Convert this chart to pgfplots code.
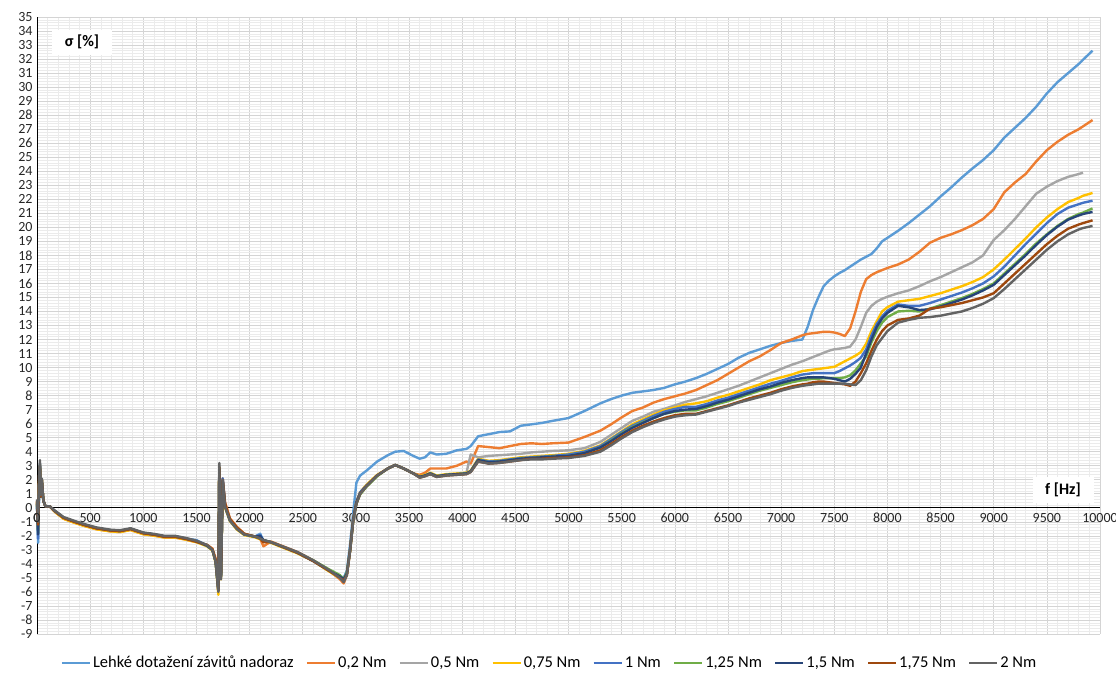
\documentclass[border=0pt]{standalone}
\usepackage{pgfplots}
\pgfplotsset{compat=1.18}
\usepackage{pgfplotstable}
\usepackage{fontspec}
\setmainfont{Carlito}
\definecolor{cA}{HTML}{5B9BD5}
\definecolor{cB}{HTML}{ED7D31}
\definecolor{cC}{HTML}{A5A5A5}
\definecolor{cD}{HTML}{FFC000}
\definecolor{cE}{HTML}{4472C4}
\definecolor{cF}{HTML}{70AD47}
\definecolor{cG}{HTML}{264478}
\definecolor{cH}{HTML}{9E480E}
\definecolor{cI}{HTML}{636363}
\pgfplotstableread{
x a b c d e f g h i
0 0.3 0.5 0.4 0.4 0.2 0.3 0.3 0.5 0.6
10 -2.5 -1.0 -1.5 -1.5 -2.2 -1.8 -1.9 -1.2 -1.0
20 1.5 2.3 1.6 1.8 1.5 1.5 1.6 2.0 2.2
28 2.5 2.8 3.0 2.9 3.0 3.1 3.2 3.0 3.4
35 0.8 0.8 0.8 0.8 0.8 0.8 0.8 0.8 0.9
45 1.8 2.0 2.0 2.0 1.9 2.0 2.0 2.0 2.1
60 0.5 0.5 0.5 0.5 0.5 0.5 0.5 0.5 0.5
80 0.1 0.1 0.1 0.1 0.1 0.1 0.1 0.1 0.1
120 0.1 0.1 0.1 0.1 0.1 0.1 0.1 0.1 0.1
170 -0.25 -0.3 -0.25 -0.3 -0.25 -0.25 -0.25 -0.25 -0.22
250 -0.7 -0.78 -0.7 -0.78 -0.7 -0.7 -0.7 -0.72 -0.66
340 -0.95 -1.03 -0.95 -1.03 -0.95 -0.95 -0.95 -0.97 -0.9
440 -1.2 -1.28 -1.2 -1.28 -1.2 -1.2 -1.2 -1.22 -1.15
560 -1.45 -1.53 -1.45 -1.53 -1.45 -1.45 -1.45 -1.47 -1.4
690 -1.6 -1.68 -1.6 -1.68 -1.6 -1.6 -1.6 -1.62 -1.56
780 -1.65 -1.73 -1.65 -1.73 -1.65 -1.65 -1.65 -1.67 -1.6
880 -1.5 -1.58 -1.5 -1.58 -1.5 -1.5 -1.5 -1.52 -1.46
1000 -1.8 -1.88 -1.8 -1.88 -1.8 -1.8 -1.8 -1.82 -1.76
1100 -1.9 -1.98 -1.9 -1.98 -1.9 -1.9 -1.9 -1.92 -1.86
1200 -2.05 -2.12 -2.05 -2.12 -2.05 -2.05 -2.05 -2.07 -2.0
1300 -2.05 -2.12 -2.05 -2.12 -2.05 -2.05 -2.05 -2.07 -2.0
1400 -2.2 -2.27 -2.2 -2.27 -2.2 -2.2 -2.2 -2.22 -2.15
1500 -2.3 -2.45 -2.4 -2.45 -2.35 -2.4 -2.4 -2.42 -2.35
1600 -2.7 -2.65 -2.7 -2.75 -2.7 -2.7 -2.7 -2.65 -2.65
1650 -3.0 -2.9 -3.0 -3.05 -3.0 -3.0 -3.0 -2.95 -3.0
1680 -3.8 -3.6 -3.8 -3.9 -3.8 -3.8 -3.8 -3.7 -3.8
1695 -5.0 -4.8 -5.0 -5.2 -5.0 -5.0 -5.0 -4.9 -5.0
1706 -5.8 -5.9 -6.0 -6.2 -5.9 -5.7 -5.9 -5.8 -6.0
1715 2.4 2.8 3.0 2.9 2.6 2.9 2.8 2.9 3.2
1731 -4.5 -4.0 -5.0 -5.1 -4.8 -4.9 -5.0 -4.8 -5.1
1747 2.1 2.1 2.0 1.8 2.1 1.8 1.9 2.0 2.0
1769 0.2 0.4 0.1 0.0 0.2 0.1 0.1 0.3 0.1
1815 -0.9 -0.75 -0.9 -0.95 -0.9 -0.9 -0.9 -0.8 -0.9
1880 -1.45 -1.35 -1.5 -1.55 -1.45 -1.5 -1.5 -1.4 -1.5
1950 -1.9 -1.85 -1.9 -1.95 -1.9 -1.9 -1.9 -1.85 -1.9
2050 -2.05 -2.05 -2.05 -2.1 -2.05 -2.05 -2.05 -2.05 -2.05
2100 -1.85 -2.2 -2.2 -2.25 -1.95 -2.2 -2.0 -2.2 -2.2
2130 -2.35 -2.75 -2.3 -2.35 -2.35 -2.3 -2.3 -2.45 -2.3
2200 -2.45 -2.4 -2.45 -2.5 -2.45 -2.45 -2.45 -2.45 -2.45
2300 -2.75 -2.7 -2.75 -2.8 -2.75 -2.75 -2.75 -2.75 -2.72
2450 -3.2 -3.15 -3.2 -3.25 -3.2 -3.2 -3.2 -3.2 -3.15
2600 -3.8 -3.75 -3.75 -3.8 -3.8 -3.75 -3.8 -3.8 -3.75
2750 -4.5 -4.5 -4.5 -4.55 -4.45 -4.4 -4.5 -4.5 -4.45
2850 -4.9 -5.1 -5.0 -5.0 -4.9 -4.8 -4.9 -5.0 -5.0
2885 -5.0 -5.4 -5.2 -5.2 -5.1 -5.1 -5.1 -5.2 -5.3
2915 -4.5 -4.8 -4.7 -4.7 -4.6 -4.6 -4.7 -4.8 -4.8
2945 -2.6 -3.1 -3.0 -3.0 -3.0 -3.1 -3.0 -3.1 -3.1
2975 -0.3 -0.8 -0.8 -0.8 -0.8 -0.9 -0.8 -0.9 -0.9
3005 1.8 0.4 0.4 0.4 0.4 0.3 0.4 0.3 0.3
3040 2.3 1.1 1.1 1.1 1.1 0.95 1.05 1.0 1.0
3100 2.65 1.6 1.6 1.65 1.6 1.5 1.55 1.55 1.55
3200 3.3 2.3 2.3 2.35 2.3 2.25 2.3 2.3 2.3
3300 3.75 2.8 2.8 2.8 2.8 2.8 2.8 2.8 2.8
3370 4.0 3.05 3.05 3.05 3.05 3.05 3.05 3.05 3.05
3450 4.05 2.8 2.8 2.8 2.8 2.8 2.8 2.8 2.8
3540 3.7 2.45 2.45 2.45 2.45 2.45 2.45 2.45 2.45
3600 3.5 2.35 2.2 2.25 2.2 2.2 2.2 2.15 2.15
3650 3.6 2.5 2.3 2.35 2.3 2.3 2.3 2.25 2.25
3700 3.95 2.8 2.45 2.5 2.45 2.45 2.45 2.4 2.4
3760 3.8 2.8 2.25 2.3 2.25 2.25 2.25 2.2 2.2
3850 3.85 2.8 2.35 2.4 2.35 2.35 2.35 2.3 2.3
3950 4.1 3.0 2.4 2.45 2.4 2.4 2.4 2.35 2.35
4040 4.2 3.3 2.5 2.5 2.45 2.45 2.45 2.4 2.4
4080 4.4 3.15 3.8 2.65 2.6 2.6 2.6 2.55 2.55
4150 5.10 4.40 3.60 3.50 3.45 3.40 3.40 3.30 3.30
4250 5.25 4.33 3.70 3.35 3.30 3.25 3.25 3.15 3.15
4350 5.40 4.25 3.75 3.40 3.35 3.30 3.30 3.20 3.20
4450 5.45 4.40 3.80 3.50 3.45 3.40 3.40 3.30 3.30
4550 5.85 4.55 3.85 3.60 3.55 3.50 3.50 3.40 3.40
4650 5.95 4.60 3.95 3.65 3.60 3.55 3.55 3.50 3.45
4750 6.05 4.55 4.00 3.70 3.65 3.60 3.60 3.50 3.45
4850 6.20 4.60 4.05 3.75 3.70 3.65 3.65 3.55 3.50
5000 6.40 4.65 4.10 3.85 3.80 3.70 3.70 3.60 3.55
5150 6.90 5.05 4.25 4.05 4.00 3.90 3.90 3.75 3.70
5300 7.45 5.50 4.70 4.45 4.40 4.30 4.30 4.10 4.00
5400 7.75 5.95 5.20 4.95 4.90 4.80 4.75 4.55 4.45
5500 8.00 6.45 5.70 5.45 5.40 5.30 5.25 5.05 4.95
5600 8.20 6.90 6.20 5.95 5.85 5.75 5.70 5.50 5.40
5700 8.30 7.15 6.50 6.30 6.20 6.10 6.05 5.85 5.75
5800 8.40 7.50 6.85 6.65 6.55 6.40 6.40 6.15 6.05
5900 8.55 7.75 7.05 6.95 6.85 6.70 6.70 6.40 6.30
6000 8.80 7.95 7.30 7.15 7.05 6.85 6.90 6.60 6.50
6100 9.00 8.15 7.55 7.35 7.20 6.95 7.00 6.70 6.60
6200 9.25 8.40 7.75 7.45 7.20 6.95 7.05 6.70 6.65
6300 9.55 8.75 7.95 7.60 7.40 7.15 7.25 6.90 6.85
6400 9.90 9.10 8.20 7.85 7.65 7.40 7.50 7.10 7.05
6500 10.25 9.55 8.45 8.05 7.85 7.60 7.70 7.30 7.25
6600 10.70 10.00 8.70 8.30 8.10 7.85 7.95 7.55 7.50
6700 11.05 10.45 9.00 8.55 8.35 8.10 8.20 7.80 7.70
6800 11.30 10.80 9.30 8.80 8.60 8.35 8.45 8.00 7.90
6900 11.55 11.25 9.60 9.10 8.85 8.55 8.65 8.20 8.10
7000 11.75 11.75 9.90 9.30 9.05 8.75 8.90 8.45 8.35
7100 11.90 12.00 10.20 9.50 9.30 8.95 9.10 8.65 8.55
7200 12.00 12.30 10.45 9.75 9.50 9.10 9.25 8.80 8.70
7250 12.90 12.40 10.60 9.80 9.55 9.15 9.30 8.85 8.75
7300 14.10 12.45 10.75 9.85 9.60 9.20 9.30 8.95 8.80
7350 15.00 12.50 10.90 9.90 9.60 9.20 9.30 9.00 8.85
7400 15.80 12.55 11.05 9.95 9.60 9.25 9.30 9.00 8.85
7450 16.20 12.55 11.20 10.00 9.60 9.25 9.25 8.95 8.85
7500 16.50 12.50 11.30 10.05 9.60 9.25 9.20 8.90 8.85
7550 16.75 12.40 11.35 10.25 9.75 9.25 9.10 8.85 8.85
7600 16.95 12.25 11.40 10.45 9.95 9.30 9.00 8.80 8.85
7650 17.20 12.80 11.50 10.65 10.15 9.45 9.20 8.70 8.80
7700 17.45 14.00 12.00 10.85 10.40 9.80 9.55 9.00 8.75
7750 17.70 15.40 12.90 11.10 10.70 10.30 10.00 9.60 9.10
7800 17.90 16.30 13.90 11.70 11.30 10.80 11.00 10.30 9.80
7850 18.10 16.60 14.40 12.60 12.30 11.80 12.00 11.20 10.80
7900 18.50 16.80 14.70 13.30 13.10 12.60 12.90 12.00 11.60
7950 19.00 16.95 14.90 14.00 13.65 13.20 13.50 12.60 12.10
8000 19.25 17.10 15.05 14.30 14.05 13.60 13.90 13.00 12.60
8100 19.75 17.35 15.30 14.70 14.50 14.00 14.40 13.40 13.20
8200 20.30 17.70 15.50 14.80 14.40 14.05 14.30 13.50 13.40
8300 20.90 18.25 15.80 14.90 14.40 14.00 14.10 13.70 13.55
8400 21.50 18.90 16.15 15.10 14.60 14.20 14.15 14.20 13.60
8500 22.20 19.25 16.45 15.30 14.85 14.45 14.35 14.30 13.70
8600 22.85 19.50 16.80 15.55 15.10 14.70 14.60 14.45 13.85
8700 23.55 19.80 17.15 15.80 15.35 14.95 14.85 14.60 14.00
8800 24.20 20.15 17.50 16.10 15.65 15.25 15.15 14.80 14.25
8900 24.80 20.60 18.00 16.45 16.00 15.60 15.50 15.00 14.55
9000 25.50 21.30 19.10 17.00 16.50 16.00 15.90 15.30 14.95
9100 26.40 22.50 19.80 17.70 17.20 16.70 16.60 16.00 15.60
9200 27.10 23.20 20.60 18.45 18.00 17.40 17.30 16.70 16.30
9300 27.80 23.80 21.50 19.20 18.80 18.10 18.00 17.40 17.00
9400 28.60 24.70 22.40 20.00 19.55 18.85 18.75 18.10 17.70
9500 29.55 25.50 22.90 20.70 20.30 19.50 19.45 18.80 18.40
9600 30.35 26.10 23.30 21.30 20.95 20.10 20.05 19.40 19.00
9700 31.00 26.60 23.60 21.80 21.40 20.60 20.55 19.90 19.50
9800 31.65 27.00 23.80 22.10 21.65 20.95 20.85 20.20 19.85
9840 31.95 27.20 23.90 22.25 21.75 21.05 20.95 20.30 19.95
9930 32.60 27.65 nan 22.45 21.90 21.35 21.10 20.50 20.10
}\data
\begin{document}
\begin{tikzpicture}[x=1pt,y=1pt]
\useasboundingbox (0,0) rectangle (1116,674);
\begin{axis}[
  at={(37pt,40pt)}, anchor=south west,
  scale only axis, width=1063pt, height=617pt,
  xmin=0, xmax=10000, ymin=-9, ymax=35,
  axis x line=middle, axis y line=left,
  axis line style={-, black, line width=0.9pt},
  xtick distance=500, ytick distance=1,
  minor x tick num=4, minor y tick num=4,
  scaled x ticks=false, scaled y ticks=false,
  hide obscured x ticks=false, hide obscured y ticks=false,
  grid=both,
  major grid style={draw=black!17, line width=0.6pt},
  minor grid style={draw=black!8, line width=0.5pt},
  major tick length=0pt, minor tick length=0pt,
  tick label style={font=\fontsize{14}{16}\selectfont, text=black!85},
  xticklabel={\pgfmathparse{int(round(\tick))}\pgfmathresult},
  yticklabel={\pgfmathparse{int(round(\tick))}\pgfmathresult},
  xticklabel style={yshift=-2pt},
  yticklabel style={xshift=-1pt},
  legend columns=9,
  legend style={draw=none, at={(0.5,0)}, anchor=north, yshift=-18pt, xshift=-19pt,
    font=\fontsize{16.5}{19}\selectfont,
    /tikz/every even column/.append style={column sep=10pt}},
  legend image code/.code={\draw[#1] (0pt,0pt) -- (28pt,0pt);},
  every axis plot/.append style={line width=2.4pt, line join=round},
  clip=false,
]
\addplot[cA] table[x=x,y=a]{\data};
\addplot[cB] table[x=x,y=b]{\data};
\addplot[cC] table[x=x,y=c]{\data};
\addplot[cD] table[x=x,y=d]{\data};
\addplot[cE] table[x=x,y=e]{\data};
\addplot[cF] table[x=x,y=f]{\data};
\addplot[cG] table[x=x,y=g]{\data};
\addplot[cH] table[x=x,y=h]{\data};
\addplot[cI] table[x=x,y=i]{\data};
\legend{Lehké dotažení závitů nadoraz, {0,2 Nm}, {0,5 Nm}, {0,75 Nm}, {1 Nm}, {1,25 Nm}, {1,5 Nm}, {1,75 Nm}, {2 Nm}}
\node[anchor=north, yshift=-2pt, inner sep=0.333em, font=\fontsize{14}{16}\selectfont, text=black!85] at (axis cs:0,0) {0};
\node[fill=white, font=\bfseries\fontsize{16}{19}\selectfont, minimum width=60pt, minimum height=25pt, inner sep=0pt] at (axis cs:423,33.2) {σ [\%]};
\node[fill=white, font=\bfseries\fontsize{16}{19}\selectfont, minimum width=61pt, minimum height=26pt, inner sep=0pt] at (axis cs:9652,1.28) {f [Hz]};
\end{axis}
\end{tikzpicture}
\end{document}
